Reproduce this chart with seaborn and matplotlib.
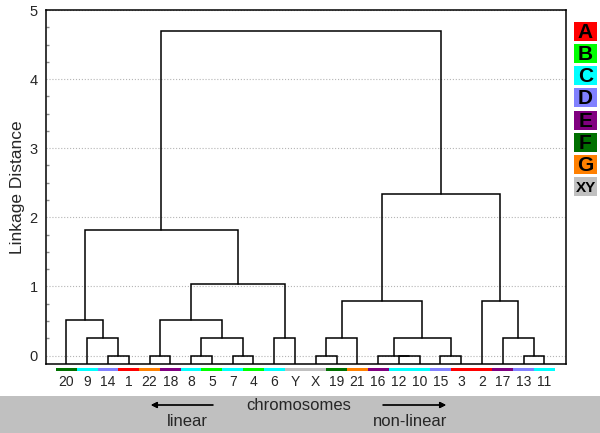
import matplotlib
matplotlib.use("Agg")
import matplotlib.pyplot as plt
from matplotlib.ticker import MultipleLocator
from matplotlib.patches import Rectangle
import seaborn as sns

# leaf order along the x axis and the group each chromosome belongs to
leaves = ["20", "9", "14", "1", "22", "18", "8", "5", "7", "4", "6", "Y",
          "X", "19", "21", "16", "12", "10", "15", "3", "2", "17", "13", "11"]
leaf_groups = ["F", "C", "D", "A", "G", "E", "C", "B", "C", "B", "C", "XY",
               "XY", "F", "G", "E", "C", "C", "D", "A", "A", "E", "D", "C"]

# merges: (child a, child b, linkage distance); ids >= 24 are earlier merges
merges = [
    (2, 3, 0.0),     # 24: 14+1
    (1, 24, 0.25),   # 25
    (0, 25, 0.52),   # 26
    (4, 5, 0.0),     # 27: 22+18
    (6, 7, 0.0),     # 28: 8+5
    (8, 9, 0.0),     # 29: 7+4
    (28, 29, 0.25),  # 30
    (27, 30, 0.52),  # 31
    (10, 11, 0.25),  # 32: 6+Y
    (31, 32, 1.03),  # 33
    (26, 33, 1.81),  # 34
    (12, 13, 0.0),   # 35: X+19
    (35, 14, 0.25),  # 36
    (16, 17, 0.0),   # 37: 12+10
    (15, 37, 0.0),   # 38
    (18, 19, 0.0),   # 39: 15+3
    (38, 39, 0.25),  # 40
    (36, 40, 0.79),  # 41
    (22, 23, 0.0),   # 42: 13+11
    (21, 42, 0.25),  # 43
    (20, 43, 0.79),  # 44
    (41, 44, 2.34),  # 45
    (34, 45, 4.69),  # 46
]

legend_labels = ["A", "B", "C", "D", "E", "F", "G", "XY"]
legend_colors = ["#ff0000", "#00ff00", "#00ffff", "#8080ff",
                 "#800080", "#007000", "#ff8000", "#c0c0c0"]
group_color = dict(zip(legend_labels, legend_colors))

sns.set_theme(style="white")
plt.rcParams["font.family"] = ["Liberation Sans", "DejaVu Sans"]

fig = plt.figure(figsize=(6.0, 4.33), dpi=100)
fig.patch.set_facecolor("white")

# grey band at the bottom
fig.add_artist(Rectangle((0, 0), 1, 37.3 / 433, transform=fig.transFigure,
                         facecolor="#c0c0c0", edgecolor="none", zorder=0))

ax = fig.add_axes([46 / 600, 69.5 / 433, 520 / 600, 353.5 / 433])
ybot = -0.115
ax.set_xlim(-0.98, 24.04)
ax.set_ylim(ybot, 5)

# dendrogram
pos = {i: float(i) for i in range(len(leaves))}
hgt = {i: ybot for i in range(len(leaves))}
for k, (a, b, h) in enumerate(merges):
    node = len(leaves) + k
    xa, xb = pos[a], pos[b]
    ax.plot([xa, xa, xb, xb], [hgt[a], h, h, hgt[b]], color="black",
            lw=1.1, solid_joinstyle="miter", zorder=3)
    pos[node] = (xa + xb) / 2
    hgt[node] = h

# coloured strip under the leaves
ax.bar(range(len(leaves)), 0.042, bottom=-0.222, width=1.0,
       color=[group_color[g] for g in leaf_groups], linewidth=0, clip_on=False)

ax.set_xticks(range(len(leaves)))
ax.set_xticklabels(leaves, fontsize=10)
ax.tick_params(axis="x", length=0, pad=8)
ax.set_yticks([0, 1, 2, 3, 4, 5])
ax.yaxis.set_minor_locator(MultipleLocator(0.25))
ax.tick_params(axis="y", which="major", direction="in", length=3,
               labelsize=10.5, pad=6, color="#555555")
ax.tick_params(axis="y", which="minor", direction="in", length=2,
               left=True, color="#888888")
ax.yaxis.grid(True, linestyle=":", color="#b5b5b5", lw=0.8)
ax.set_axisbelow(True)
ax.set_ylabel("Linkage Distance", fontsize=12.5, labelpad=3)
for s in ax.spines.values():
    s.set_visible(True)
    s.set_color("black")
    s.set_linewidth(1.1)

# group legend boxes
lax = fig.add_axes([574 / 600, (433 - 198) / 433, 23 / 600, 178 / 433])
sns.barplot(x=[1] * len(legend_labels), y=legend_labels, hue=legend_labels,
            palette=legend_colors, orient="h", width=0.86, saturation=1,
            linewidth=0, legend=False, ax=lax)
lax.set_xlim(0, 1)
lax.set_ylim(len(legend_labels) - 0.5, -0.5)
lax.axis("off")
for i, lab in enumerate(legend_labels):
    lax.text(0.5, i + 0.05, lab, ha="center", va="center",
             fontsize=11 if lab == "XY" else 15, fontweight="bold",
             color="black")

# bottom annotations
fig.text(299 / 600, 1 - 405 / 433, "chromosomes", ha="center", va="center",
         fontsize=12)
fig.text(187.5 / 600, 1 - 422 / 433, "linear", ha="center", va="center",
         fontsize=12)
fig.text(410 / 600, 1 - 422 / 433, "non-linear", ha="center", va="center",
         fontsize=12)
arrow = dict(arrowstyle="-|>", color="black", lw=0.9, mutation_scale=9,
             shrinkA=0, shrinkB=0)
fig.add_artist(plt.annotate("", xy=(151 / 600, 1 - 405 / 433),
                            xytext=(213 / 600, 1 - 405 / 433),
                            xycoords="figure fraction", arrowprops=arrow))
fig.add_artist(plt.annotate("", xy=(446 / 600, 1 - 405 / 433),
                            xytext=(383 / 600, 1 - 405 / 433),
                            xycoords="figure fraction", arrowprops=arrow))

fig.savefig("out.png", dpi=100)
